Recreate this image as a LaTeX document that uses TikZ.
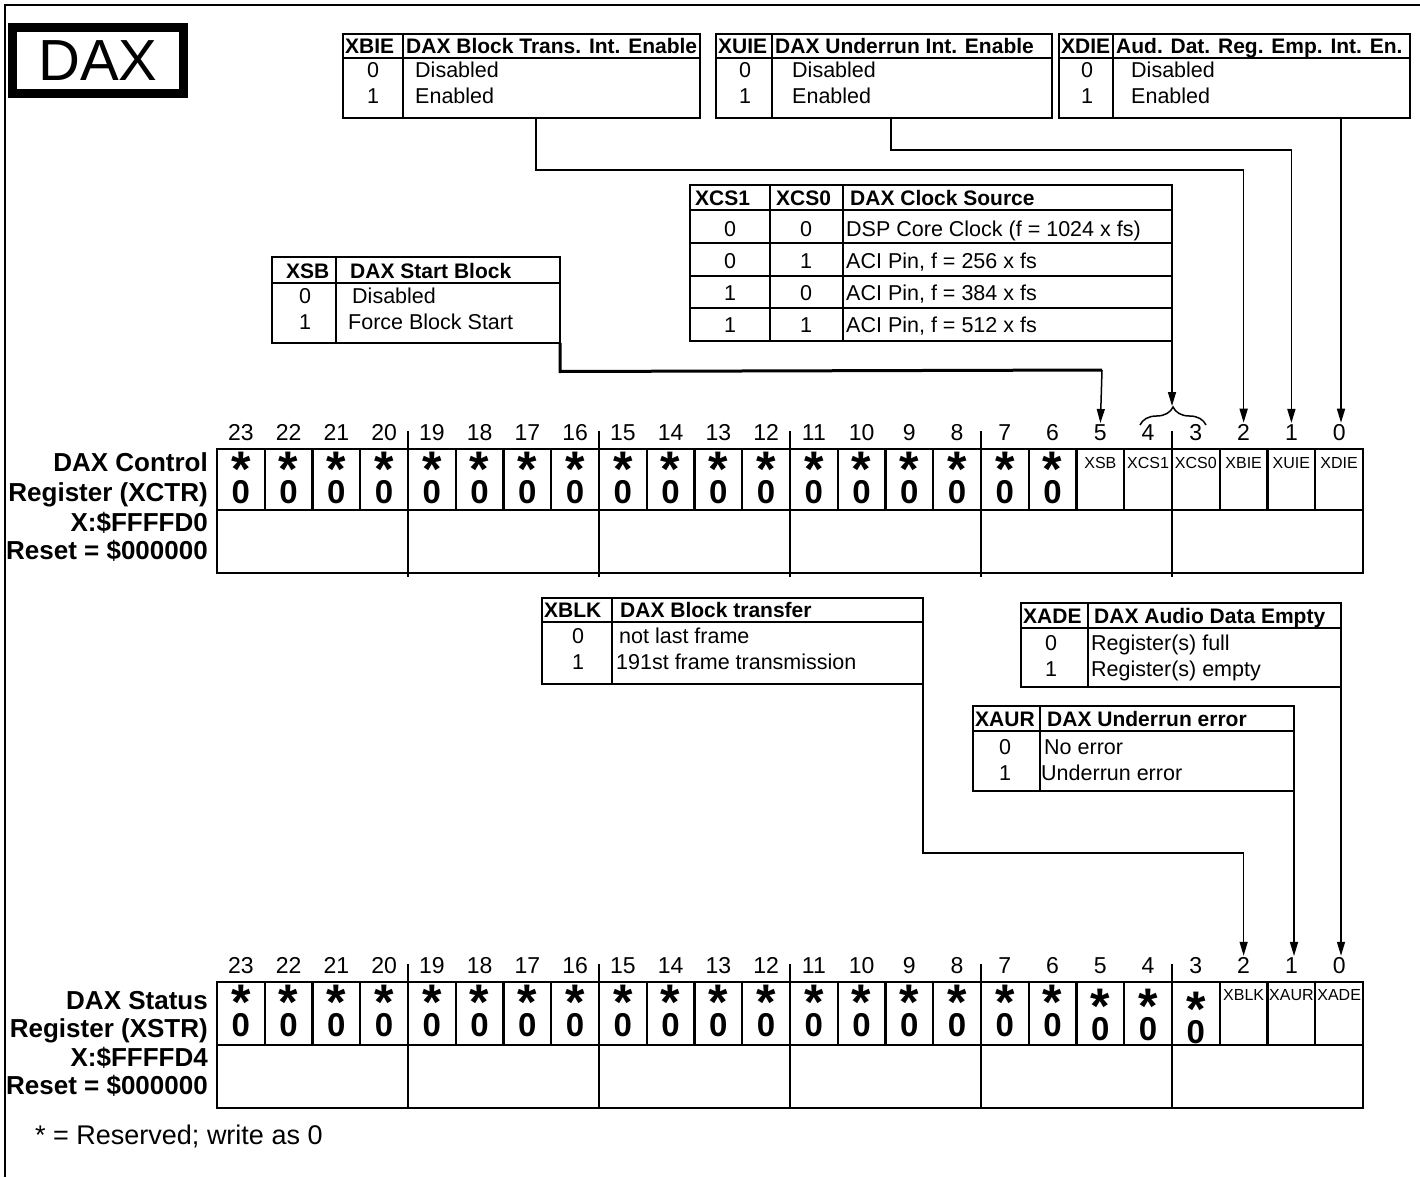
\documentclass[tikz,border=0pt]{standalone}
\usepackage{fontspec}
\setmainfont{Liberation Sans}
\usetikzlibrary{arrows.meta,decorations.pathreplacing,calc}
\newcommand\fs[1]{\fontsize{#1}{#1}\selectfont}
\newcommand\starzero{{\fs{33}\bfseries\makebox[0pt][l]{\makebox[18.35pt]{\raisebox{17pt}{\fs{50}\bfseries *}}}0}}
\begin{document}
\begin{tikzpicture}[x=1pt,y=-1pt,
  tbl/.style={draw,line width=1.8pt,inner sep=0pt,outer sep=0pt,anchor=north west},
  rule/.style={line width=1.8pt},
  conn/.style={line width=1.5pt,-{Triangle[length=14pt,width=8pt]}},
  hd/.style={anchor=base west,inner sep=0pt,font=\fs{21}\bfseries},
  bd/.style={anchor=base west,inner sep=0pt,font=\fs{21.5}},
  bdc/.style={anchor=base,inner sep=0pt,font=\fs{21.5}},
  bitno/.style={anchor=base,inner sep=1pt,font=\fs{23}},
  reg/.style={line width=2.2pt},
  lbl/.style={anchor=base east,inner sep=0pt,font=\fs{26}\bfseries},
  sz/.style={anchor=base,inner sep=0pt},
  fld/.style={anchor=base,inner sep=0pt,font=\fs{16}}]
\useasboundingbox (0,0) rectangle (1420,1177);
% frame
\draw[line width=2.5pt] (5,1177) -- (5,5) -- (1420,5);
% DAX title
\node[draw,line width=9pt,minimum width=171pt,minimum height=66pt,inner sep=0pt,font=\fs{58}] (dax) at (98,61) {DAX};

% ---------- top tables ----------
\node[tbl,minimum width=357pt,minimum height=84pt] (xbie) at (343,34) {};
\draw[rule] (343,58) -- (700,58) (403,34) -- (403,118);
\node[hd] (xbie-a) at (345,54) {XBIE};
\node[hd] (xbie-b) at (406,54) {DAX Block Trans. Int. Enable};
\node[bdc] (xbie-c) at (373,78) {0};
\node[bd] (xbie-d) at (415,78) {Disabled};
\node[bdc] (xbie-e) at (373,104) {1};
\node[bd] (xbie-f) at (415,104) {Enabled};
\coordinate (xbie-out) at (536,118);

\node[tbl,minimum width=336pt,minimum height=84pt] (xuie) at (716,34) {};
\draw[rule] (716,58) -- (1052,58) (772,34) -- (772,118);
\node[hd] (xuie-a) at (718,54) {XUIE};
\node[hd] (xuie-b) at (775,54) {DAX Underrun Int. Enable};
\node[bdc] (xuie-c) at (745,78) {0};
\node[bd] (xuie-d) at (792,78) {Disabled};
\node[bdc] (xuie-e) at (745,104) {1};
\node[bd] (xuie-f) at (792,104) {Enabled};
\coordinate (xuie-out) at (891,118);

\node[tbl,minimum width=351pt,minimum height=84pt] (xdie) at (1059,34) {};
\draw[rule] (1059,58) -- (1410,58) (1113,34) -- (1113,118);
\node[hd] (xdie-a) at (1061,54) {XDIE};
\node[hd] (xdie-b) at (1116,54) {Aud. Dat. Reg. Emp. Int. En.};
\node[bdc] (xdie-c) at (1087,78) {0};
\node[bd] (xdie-d) at (1131,78) {Disabled};
\node[bdc] (xdie-e) at (1087,104) {1};
\node[bd] (xdie-f) at (1131,104) {Enabled};
\coordinate (xdie-out) at (1341,118);

% ---------- XCS table ----------
\node[tbl,minimum width=482pt,minimum height=156pt] (xcs) at (690,185) {};
\draw[rule] (690,210) -- (1172,210) (690,243) -- (1172,243) (690,276) -- (1172,276) (690,308) -- (1172,308)
  (770,185) -- (770,341) (843,185) -- (843,341);
\node[hd] (xcs-a) at (695,205) {XCS1};
\node[hd] (xcs-b) at (776,205) {XCS0};
\node[hd] (xcs-c) at (850,205) {DAX Clock Source};
\node[bdc] (xcs-r1a) at (730,236) {0}; \node[bdc] (xcs-r1b) at (806,236) {0};
\node[bd] (xcs-r1c) at (846,236) {DSP Core Clock (f = 1024 x fs)};
\node[bdc] (xcs-r2a) at (730,268) {0}; \node[bdc] (xcs-r2b) at (806,268) {1};
\node[bd] (xcs-r2c) at (846,268) {ACI Pin, f = 256 x fs};
\node[bdc] (xcs-r3a) at (730,300) {1}; \node[bdc] (xcs-r3b) at (806,300) {0};
\node[bd] (xcs-r3c) at (846,300) {ACI Pin, f = 384 x fs};
\node[bdc] (xcs-r4a) at (730,332) {1}; \node[bdc] (xcs-r4b) at (806,332) {1};
\node[bd] (xcs-r4c) at (846,332) {ACI Pin, f = 512 x fs};

% ---------- XSB table ----------
\node[tbl,minimum width=288pt,minimum height=86pt] (xsb) at (272,257) {};
\draw[rule] (272,283) -- (560,283) (336,257) -- (336,343);
\node[hd] (xsb-a) at (286,278) {XSB};
\node[hd] (xsb-b) at (350,278) {DAX Start Block};
\node[bdc] (xsb-c) at (305,303) {0};
\node[bd] (xsb-d) at (352,303) {Disabled};
\node[bdc] (xsb-e) at (305,329) {1};
\node[bd] (xsb-f) at (348,329) {Force Block Start};

% ---------- control register ----------
\foreach \b in {0,...,23} {
  \pgfmathsetmacro\cx{217+(23-\b+0.5)*47.75}
  \node[bitno] (u\b) at (\cx,440) {\b};
}
\draw[reg] (217,449) rectangle (1363,573);
\draw[reg] (217,510) -- (1363,510);
\foreach \k in {1,...,23} \draw[reg] ({217+\k*47.75},449) -- ({217+\k*47.75},510);
\foreach \k in {4,8,...,20} {
  \draw[reg] ({217+\k*47.75},510) -- ({217+\k*47.75},577);
  \draw[line width=1.5pt] ({217+\k*47.75},431) -- ({217+\k*47.75},449);
}
\foreach \b in {6,...,23} {
  \pgfmathsetmacro\cx{217+(23-\b+0.5)*47.75}
  \node[sz] (uz\b) at (\cx,503) {\starzero};
}
\foreach \b/\t in {5/XSB,4/XCS1,3/XCS0,2/XBIE,1/XUIE,0/XDIE} {
  \pgfmathsetmacro\cx{217+(23-\b+0.5)*47.75}
  \node[fld] (uf\b) at (\cx,468) {\t};
}
\node[lbl] (ul1) at (208,471) {DAX Control};
\node[lbl] (ul2) at (208,501) {Register (XCTR)};
\node[lbl] (ul3) at (208,531) {X:\$FFFFD0};
\node[lbl] (ul4) at (208,559) {Reset = \$000000};

% brace over XCS1/XCS0
\draw[decorate,decoration={brace,amplitude=18pt},line width=1.5pt] (1140,425) -- (1206,425);
\coordinate (bracetip) at (1172,406);

% connectors to control register
\draw[conn] (xbie-out) -- ++(0,52) -| (u2.north);
\draw[conn] (xuie-out) -- ++(0,32) -| (u1.north);
\draw[conn] (xdie-out) -- (xdie-out |- u0.north);
\draw[conn] (xcs.south east) -- (bracetip);
\coordinate (xsbturn) at (1102,370);
\draw[line width=3pt] (xsb.south east) -- (560,371.5) -- (xsbturn);
\draw[conn] (xsbturn) -- (u5.north);

% ---------- XBLK table ----------
\node[tbl,minimum width=381pt,minimum height=86pt] (xblk) at (542,598) {};
\draw[rule] (542,622) -- (923,622) (612,598) -- (612,684);
\node[hd] (xblk-a) at (544,617) {XBLK};
\node[hd] (xblk-b) at (620,617) {DAX Block transfer};
\node[bdc] (xblk-c) at (578,643) {0};
\node[bd] (xblk-d) at (619,643) {not last frame};
\node[bdc] (xblk-e) at (578,669) {1};
\node[bd] (xblk-f) at (616,669) {191st frame transmission};

% ---------- XADE table ----------
\node[tbl,minimum width=320pt,minimum height=84pt] (xade) at (1021,603) {};
\draw[rule] (1021,628) -- (1341,628) (1088,603) -- (1088,687);
\node[hd] (xade-a) at (1023,623) {XADE};
\node[hd] (xade-b) at (1094,623) {DAX Audio Data Empty};
\node[bdc] (xade-c) at (1051,650) {0};
\node[bd] (xade-d) at (1091,650) {Register(s) full};
\node[bdc] (xade-e) at (1051,676) {1};
\node[bd] (xade-f) at (1091,676) {Register(s) empty};

% ---------- XAUR table ----------
\node[tbl,minimum width=321pt,minimum height=85pt] (xaur) at (973,706) {};
\draw[rule] (973,731) -- (1294,731) (1040,706) -- (1040,791);
\node[hd] (xaur-a) at (975,726) {XAUR};
\node[hd] (xaur-b) at (1047,726) {DAX Underrun error};
\node[bdc] (xaur-c) at (1005,754) {0};
\node[bd] (xaur-d) at (1044,754) {No error};
\node[bdc] (xaur-e) at (1005,780) {1};
\node[bd] (xaur-f) at (1041,780) {Underrun error};

% ---------- status register ----------
\foreach \b in {0,...,23} {
  \pgfmathsetmacro\cx{217+(23-\b+0.5)*47.75}
  \node[bitno] (l\b) at (\cx,973) {\b};
}
\draw[reg] (217,982) rectangle (1363,1108);
\draw[reg] (217,1045) -- (1363,1045);
\foreach \k in {1,...,23} \draw[reg] ({217+\k*47.75},982) -- ({217+\k*47.75},1045);
\foreach \k in {4,8,...,20} {
  \draw[reg] ({217+\k*47.75},1045) -- ({217+\k*47.75},1108);
  \draw[line width=1.5pt] ({217+\k*47.75},964) -- ({217+\k*47.75},982);
}
\foreach \b/\d in {6/0,7/0,8/0,9/0,10/0,11/0,12/0,13/0,14/0,15/0,16/0,17/0,18/0,19/0,20/0,21/0,22/0,23/0,5/4,4/4,3/7} {
  \pgfmathsetmacro\cx{217+(23-\b+0.5)*47.75}
  \node[sz] (lz\b) at (\cx,1036+\d) {\starzero};
}
\foreach \b/\t in {2/XBLK,1/XAUR,0/XADE} {
  \pgfmathsetmacro\cx{217+(23-\b+0.5)*47.75}
  \node[fld] (lf\b) at (\cx,1000) {\t};
}
\node[lbl] (ll1) at (208,1009) {DAX Status};
\node[lbl] (ll2) at (208,1037) {Register (XSTR)};
\node[lbl] (ll3) at (208,1066) {X:\$FFFFD4};
\node[lbl] (ll4) at (208,1094) {Reset = \$000000};

% connectors to status register
\draw[conn] (xblk.south east) -- ++(0,169) -| (l2.north);
\draw[conn] (xaur.south east) -- (xaur.south east |- l1.north);
\draw[conn] (xade.south east) -- (xade.south east |- l0.north);

% footnote
\node[anchor=base west,inner sep=0pt,font=\fs{27}] (note) at (35,1144) {* = Reserved; write as 0};
\end{tikzpicture}
\end{document}
